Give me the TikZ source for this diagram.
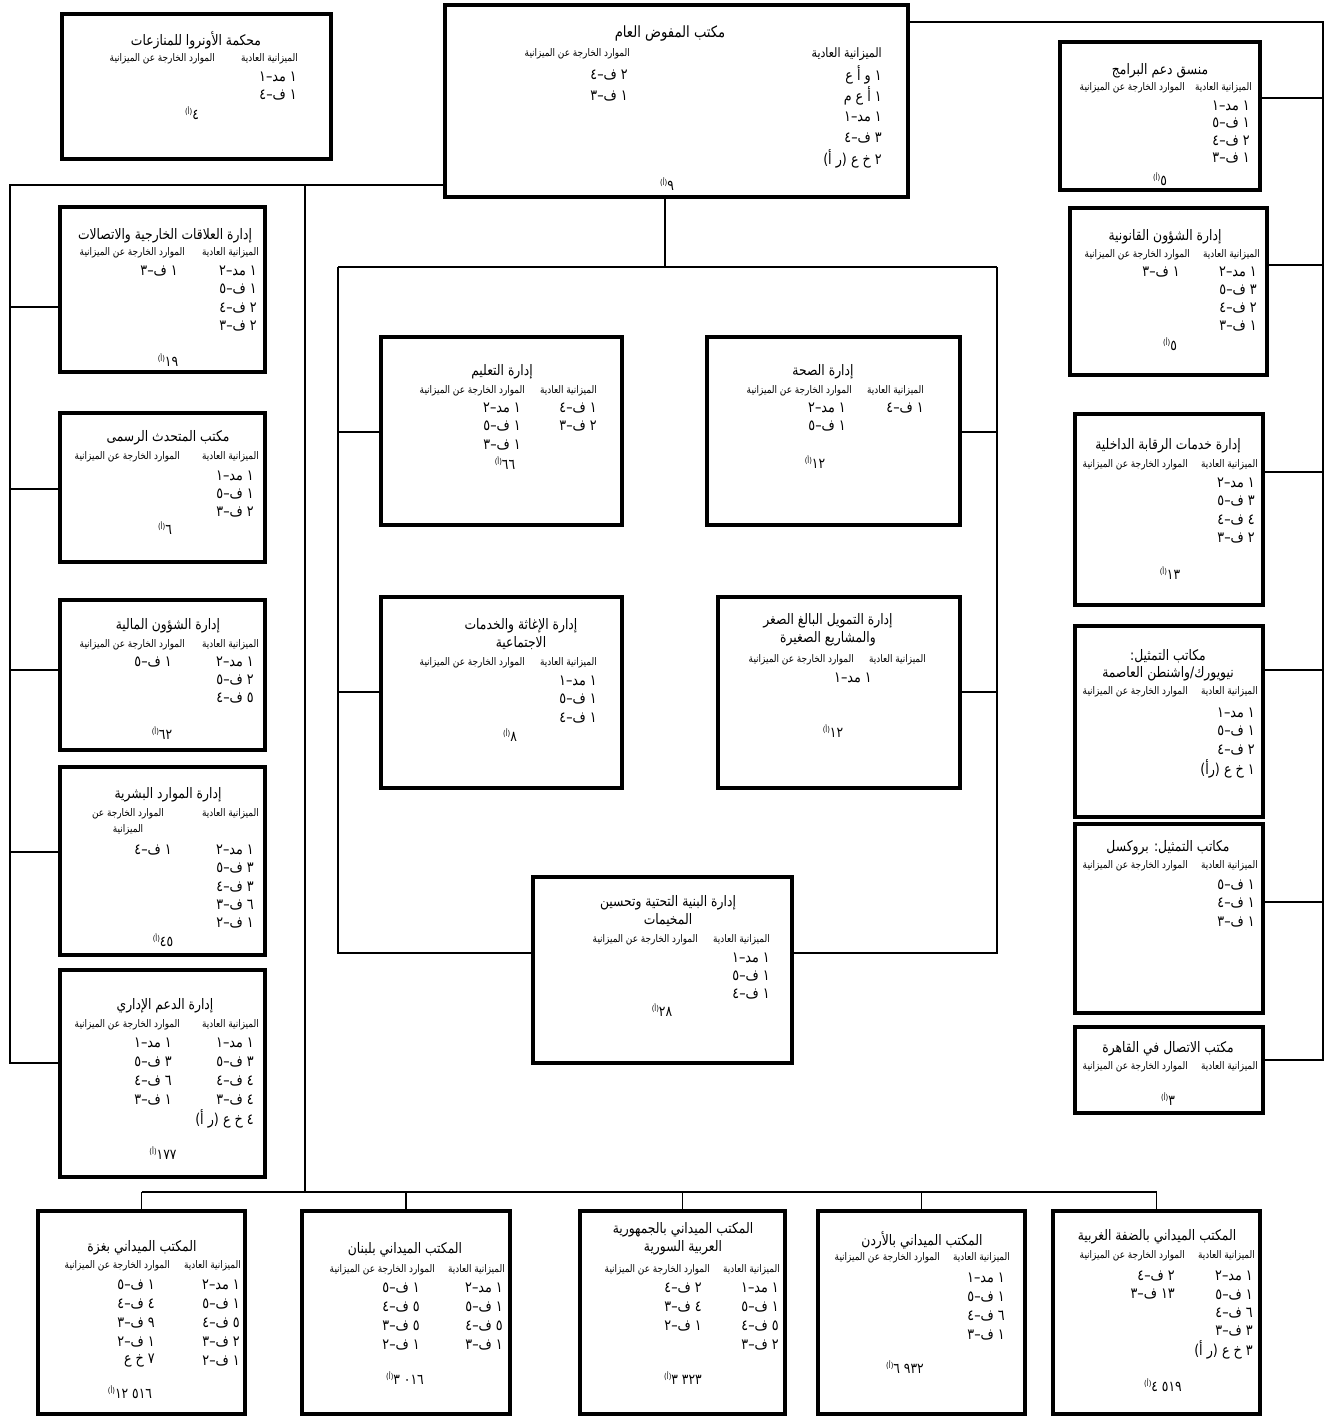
\documentclass[tikz,border=0pt]{standalone}
\usepackage{fontspec}
\usetikzlibrary{fit}
\TeXXeTstate=1
\newfontfamily\ar[Script=Arabic,FakeStretch=0.85]{DejaVu Sans}
\newcommand\artxt[1]{\beginR#1\endR}
\newcommand\supa{\raisebox{5pt}{\fontsize{8}{8}\selectfont(أ)}}
\tikzset{
 obox/.style={draw, line width=3.5pt, inner sep=0pt},
 ttl/.style={font=\ar\fontsize{14.5}{17}\selectfont, align=center, inner sep=0pt},
 hdr/.style={font=\ar\fontsize{10.5}{12}\selectfont, anchor=east, inner sep=0pt},
 rw/.style={font=\ar\fontsize{15}{16}\selectfont, anchor=east, inner sep=0pt},
 tot/.style={font=\ar\fontsize{14.5}{16}\selectfont, inner sep=0pt},
 conn/.style={line width=1.2pt},
}
\newcommand\colrows[5]{\foreach \t [count=\i from 0] in {#5}{\node[rw] (#1-\i) at (#2,{#3+\i*#4}) {\t};}}
\newcommand\hdrs[4]{\node[hdr] (#1-hr) at (#2,#4) {\artxt{الميزانية العادية}};
 \node[hdr] (#1-hl) at (#3,#4) {\artxt{الموارد الخارجة عن الميزانية}};}
\newcommand\tot[4]{\node[tot] (#1-tot) at (#2,#3) {\artxt{#4\supa}};}
\newcommand\mkbox[5]{\node[obox, fit={(#2,#3) (#4,#5)}] (#1) {};}
\begin{document}
\begin{tikzpicture}[x=1pt,y=-1pt]
\useasboundingbox (0,0) rectangle (1328,1416);
% ---------- top
\mkbox{ucg}{445}{5}{908}{197}
\node[ttl, font=\ar\fontsize{15.5}{17}\selectfont] (ucg-t) at (670,34) {\artxt{مكتب المفوض العام}};
\node[hdr, font=\ar\fontsize{13}{14}\selectfont] (ucg-hr) at (882,54) {\artxt{الميزانية العادية}};
\node[hdr] (ucg-hl) at (630,54) {\artxt{الموارد الخارجة عن الميزانية}};
\colrows{ucgR}{882}{75}{21}{{\artxt{١ و أ ع}},{\artxt{١ أ ع م}},{\artxt{١ مد–١}},{\artxt{٣ ف–٤}},{\artxt{٢ خ ع (ر أ)}}}
\colrows{ucgL}{628}{75}{21}{{\artxt{٢ ف–٤}},{\artxt{١ ف–٣}}}
\tot{ucg}{667}{184}{٩}
% ---------- court
\mkbox{court}{62}{14}{331}{159}
\node[ttl] (court-t) at (196,40) {\artxt{محكمة الأونروا للمنازعات}};
\hdrs{court}{298}{215}{59}
\colrows{courtR}{297}{77}{18}{{\artxt{١ مد–١}},{\artxt{١ ف–٤}}}
\tot{court}{192}{113}{٤}
% ---------- right column
\mkbox{psc}{1060}{42}{1260}{190}
\node[ttl] (psc-t) at (1160,71) {\artxt{منسق دعم البرامج}};
\hdrs{psc}{1252}{1185}{88}
\colrows{pscR}{1250}{106}{17.5}{{\artxt{١ مد–١}},{\artxt{١ ف–٥}},{\artxt{٢ ف–٤}},{\artxt{١ ف–٣}}}
\tot{psc}{1160}{179}{٥}

\mkbox{leg}{1070}{208}{1267}{375}
\node[ttl] (leg-t) at (1165,237) {\artxt{إدارة الشؤون القانونية}};
\hdrs{leg}{1260}{1190}{255}
\colrows{legR}{1257}{272}{18}{{\artxt{١ مد–٢}},{\artxt{٣ ف–٥}},{\artxt{٢ ف–٤}},{\artxt{١ ف–٣}}}
\colrows{legL}{1180}{272}{18}{{\artxt{١ ف–٣}}}
\tot{leg}{1170}{344}{٥}

\mkbox{ios}{1075}{414}{1263}{605}
\node[ttl] (ios-t) at (1168,446) {\artxt{إدارة خدمات الرقابة الداخلية}};
\hdrs{ios}{1258}{1188}{465}
\colrows{iosR}{1255}{483}{18.5}{{\artxt{١ مد–٢}},{\artxt{٣ ف–٥}},{\artxt{٤ ف–٤}},{\artxt{٢ ف–٣}}}
\tot{ios}{1170}{573}{١٣}

\mkbox{ny}{1075}{626}{1263}{817}
\node[ttl, font=\ar\fontsize{14.5}{17}\selectfont] (ny-t) at (1168,665) {\artxt{مكاتب التمثيل:}\\\artxt{نيويورك/واشنطن العاصمة}};
\hdrs{ny}{1258}{1188}{692}
\colrows{nyR}{1255}{713}{18.5}{{\artxt{١ مد–١}},{\artxt{١ ف–٥}},{\artxt{٢ ف–٤}},{\artxt{١ خ ع (رأ)}}}

\mkbox{bru}{1075}{824}{1263}{1013}
\node[ttl] (bru-t) at (1168,848) {\artxt{مكاتب التمثيل: بروكسل}};
\hdrs{bru}{1258}{1188}{866}
\colrows{bruR}{1255}{885}{18.5}{{\artxt{١ ف–٥}},{\artxt{١ ف–٤}},{\artxt{١ ف–٣}}}

\mkbox{cai}{1075}{1027}{1263}{1113}
\node[ttl] (cai-t) at (1168,1049) {\artxt{مكتب الاتصال في القاهرة}};
\hdrs{cai}{1258}{1188}{1067}
\tot{cai}{1168}{1099}{٣}
% ---------- left column
\mkbox{ext}{60}{207}{265}{372}
\node[ttl] (ext-t) at (165,236) {\artxt{إدارة العلاقات الخارجية والاتصالات}};
\hdrs{ext}{259}{185}{253}
\colrows{extR}{257}{271}{18.5}{{\artxt{١ مد–٢}},{\artxt{١ ف–٥}},{\artxt{٢ ف–٤}},{\artxt{٢ ف–٣}}}
\colrows{extL}{178}{271}{18.5}{{\artxt{١ ف–٣}}}
\tot{ext}{168}{360}{١٩}

\mkbox{spk}{60}{413}{265}{562}
\node[ttl] (spk-t) at (168,438) {\artxt{مكتب المتحدث الرسمى}};
\hdrs{spk}{259}{180}{457}
\colrows{spkR}{254}{476}{18}{{\artxt{١ مد–١}},{\artxt{١ ف–٥}},{\artxt{٢ ف–٣}}}
\tot{spk}{165}{528}{٦}

\mkbox{fin}{60}{600}{265}{750}
\node[ttl] (fin-t) at (168,626) {\artxt{إدارة الشؤون المالية}};
\hdrs{fin}{259}{185}{645}
\colrows{finR}{254}{662}{18}{{\artxt{١ مد–٢}},{\artxt{٢ ف–٥}},{\artxt{٥ ف–٤}}}
\colrows{finL}{172}{662}{18}{{\artxt{١ ف–٥}}}
\tot{fin}{162}{733}{٦٢}

\mkbox{hr}{60}{767}{265}{955}
\node[ttl] (hr-t) at (168,795) {\artxt{إدارة الموارد البشرية}};
\node[hdr] (hr-hr) at (259,814) {\artxt{الميزانية العادية}};
\node[hdr, anchor=center, align=center, font=\ar\fontsize{10.5}{16}\selectfont] (hr-hl) at (128,822) {\artxt{الموارد الخارجة عن}\\\artxt{الميزانية}};
\colrows{hrR}{254}{850}{18.3}{{\artxt{١ مد–٢}},{\artxt{٣ ف–٥}},{\artxt{٣ ف–٤}},{\artxt{٦ ف–٣}},{\artxt{١ ف–٢}}}
\colrows{hrL}{172}{850}{18.3}{{\artxt{١ ف–٤}}}
\tot{hr}{163}{940}{٤٥}

\mkbox{adm}{60}{970}{265}{1177}
\node[ttl] (adm-t) at (165,1006) {\artxt{إدارة الدعم الإداري}};
\hdrs{adm}{259}{180}{1025}
\colrows{admR}{254}{1043}{19}{{\artxt{١ مد–١}},{\artxt{٣ ف–٥}},{\artxt{٤ ف–٤}},{\artxt{٤ ف–٣}},{\artxt{٤ خ ع (ر أ)}}}
\colrows{admL}{172}{1043}{19}{{\artxt{١ مد–١}},{\artxt{٣ ف–٥}},{\artxt{٦ ف–٤}},{\artxt{١ ف–٣}}}
\tot{adm}{163}{1153}{١٧٧}
% ---------- centre
\mkbox{edu}{381}{337}{622}{525}
\node[ttl] (edu-t) at (502,372) {\artxt{إدارة التعليم}};
\hdrs{edu}{597}{525}{391}
\colrows{eduR}{597}{408}{18.5}{{\artxt{١ ف–٤}},{\artxt{٢ ف–٣}}}
\colrows{eduL}{521}{408}{18.5}{{\artxt{١ مد–٢}},{\artxt{١ ف–٥}},{\artxt{١ ف–٣}}}
\tot{edu}{505}{463}{٦٦}

\mkbox{hea}{707}{337}{960}{525}
\node[ttl] (hea-t) at (823,372) {\artxt{إدارة الصحة}};
\hdrs{hea}{924}{852}{391}
\colrows{heaR}{924}{408}{18.5}{{\artxt{١ ف–٤}}}
\colrows{heaL}{846}{408}{18.5}{{\artxt{١ مد–٢}},{\artxt{١ ف–٥}}}
\tot{hea}{815}{462}{١٢}

\mkbox{rel}{381}{597}{622}{788}
\node[ttl, font=\ar\fontsize{14.5}{18}\selectfont] (rel-t) at (521,634) {\artxt{إدارة الإغاثة والخدمات}\\\artxt{الاجتماعية}};
\hdrs{rel}{597}{525}{663}
\colrows{relR}{597}{681}{18.5}{{\artxt{١ مد–١}},{\artxt{١ ف–٥}},{\artxt{١ ف–٤}}}
\tot{rel}{510}{735}{٨}

\mkbox{mf}{718}{597}{960}{788}
\node[ttl, font=\ar\fontsize{14.5}{18}\selectfont] (mf-t) at (828,630) {\artxt{إدارة التمويل البالغ الصغر}\\\artxt{والمشاريع الصغيرة}};
\hdrs{mf}{926}{854}{660}
\colrows{mfR}{872}{678}{18.5}{{\artxt{١ مد–١}}}
\tot{mf}{833}{731}{١٢}

\mkbox{inf}{533}{877}{792}{1063}
\node[ttl, font=\ar\fontsize{14.5}{18}\selectfont] (inf-t) at (668,911) {\artxt{إدارة البنية التحتية وتحسين}\\\artxt{المخيمات}};
\hdrs{inf}{770}{698}{940}
\colrows{infR}{770}{958}{18}{{\artxt{١ مد–١}},{\artxt{١ ف–٥}},{\artxt{١ ف–٤}}}
\tot{inf}{662}{1010}{٢٨}
% ---------- field offices
\mkbox{gaz}{38}{1211}{245}{1414}
\node[ttl] (gaz-t) at (142,1248) {\artxt{المكتب الميداني بغزة}};
\hdrs{gaz}{241}{170}{1266}
\colrows{gazR}{240}{1285}{19}{{\artxt{١ مد–٢}},{\artxt{١ ف–٥}},{\artxt{٥ ف–٤}},{\artxt{٢ ف–٣}},{\artxt{١ ف–٢}}}
\colrows{gazL}{155}{1285}{19}{{\artxt{١ ف–٥}},{\artxt{٤ ف–٤}},{\artxt{٩ ف–٣}},{\artxt{١ ف–٢}},{\artxt{٧ خ ع}}}
\tot{gaz}{130}{1392}{\beginL١٢ ٥١٦\endL}

\mkbox{leb}{302}{1211}{510}{1414}
\node[ttl] (leb-t) at (405,1250) {\artxt{المكتب الميداني بلبنان}};
\hdrs{leb}{505}{435}{1270}
\colrows{lebR}{503}{1288}{19}{{\artxt{١ مد–٢}},{\artxt{١ ف–٥}},{\artxt{٥ ف–٤}},{\artxt{١ ف–٣}}}
\colrows{lebL}{420}{1288}{19}{{\artxt{١ ف–٥}},{\artxt{٥ ف–٤}},{\artxt{٥ ف–٣}},{\artxt{١ ف–٢}}}
\tot{leb}{405}{1378}{\beginL٣ ٠١٦\endL}

\mkbox{syr}{580}{1211}{785}{1414}
\node[ttl, font=\ar\fontsize{14.5}{18}\selectfont] (syr-t) at (683,1239) {\artxt{المكتب الميداني بالجمهورية}\\\artxt{العربية السورية}};
\hdrs{syr}{780}{710}{1270}
\colrows{syrR}{779}{1288}{19}{{\artxt{١ مد–١}},{\artxt{١ ف–٥}},{\artxt{٥ ف–٤}},{\artxt{٢ ف–٣}}}
\colrows{syrL}{702}{1288}{19}{{\artxt{٢ ف–٤}},{\artxt{٤ ف–٣}},{\artxt{١ ف–٢}}}
\tot{syr}{683}{1378}{\beginL٣ ٣٢٣\endL}

\mkbox{jor}{818}{1211}{1025}{1414}
\node[ttl] (jor-t) at (922,1240) {\artxt{المكتب الميداني بالأردن}};
\hdrs{jor}{1010}{940}{1258}
\colrows{jorR}{1005}{1278}{19}{{\artxt{١ مد–١}},{\artxt{١ ف–٥}},{\artxt{٦ ف–٤}},{\artxt{١ ف–٣}}}
\tot{jor}{905}{1367}{\beginL٦ ٩٣٢\endL}

\mkbox{wb}{1053}{1211}{1260}{1414}
\node[ttl] (wb-t) at (1157,1237) {\artxt{المكتب الميداني بالضفة الغربية}};
\hdrs{wb}{1255}{1185}{1256}
\colrows{wbR}{1253}{1276}{18.5}{{\artxt{١ مد–٢}},{\artxt{١ ف–٥}},{\artxt{٦ ف–٤}},{\artxt{٣ ف–٣}},{\artxt{٣ خ ع (ر أ)}}}
\colrows{wbL}{1175}{1276}{18.5}{{\artxt{٢ ف–٤}},{\artxt{١٣ ف–٣}}}
\tot{wb}{1163}{1385}{\beginL٤ ٥١٩\endL}
% ---------- connectors
\coordinate (rT) at (1323,22);
\coordinate (rB) at (1323,1060);
\draw[conn] (ucg.east |- rT) -- (rT) -- (rB) -- (rB -| cai.east);
\coordinate (r1) at (1323,98);  \draw[conn] (r1) -- (r1 -| psc.east);
\coordinate (r2) at (1323,265); \draw[conn] (r2) -- (r2 -| leg.east);
\coordinate (r3) at (1323,472); \draw[conn] (r3) -- (r3 -| ios.east);
\coordinate (r4) at (1323,670); \draw[conn] (r4) -- (r4 -| ny.east);
\coordinate (r5) at (1323,902); \draw[conn] (r5) -- (r5 -| bru.east);
\coordinate (lT) at (10,185);
\coordinate (lB) at (10,1063);
\draw[conn] (ucg.west |- lT) -- (lT) -- (lB) -- (lB -| adm.west);
\coordinate (l1) at (10,307); \draw[conn] (l1) -- (l1 -| ext.west);
\coordinate (l2) at (10,489); \draw[conn] (l2) -- (l2 -| spk.west);
\coordinate (l3) at (10,670); \draw[conn] (l3) -- (l3 -| fin.west);
\coordinate (l4) at (10,852); \draw[conn] (l4) -- (l4 -| hr.west);
\coordinate (mT) at (305,185);
\coordinate (mB) at (305,1192);
\draw[conn] (mT) -- (mB);
\draw[conn] (gaz.north |- mB) -- (wb.north |- mB);
\foreach \f in {gaz,leb,syr,jor,wb}{\draw[conn] (\f.north |- mB) -- (\f.north);}
\coordinate (cM) at (665,267);
\coordinate (cL) at (338,267);
\coordinate (cR) at (997,267);
\coordinate (cLB) at (338,953);
\coordinate (cRB) at (997,953);
\draw[conn] (ucg.south -| cM) -- (cM);
\draw[conn] (cL) -- (cR);
\draw[conn] (cL) -- (cLB) -- (cLB -| inf.west);
\draw[conn] (cR) -- (cRB) -- (cRB -| inf.east);
\coordinate (c1) at (338,432); \draw[conn] (c1) -- (c1 -| edu.west);
\coordinate (c2) at (997,432); \draw[conn] (c2) -- (c2 -| hea.east);
\coordinate (c3) at (338,692); \draw[conn] (c3) -- (c3 -| rel.west);
\coordinate (c4) at (997,692); \draw[conn] (c4) -- (c4 -| mf.east);
\end{tikzpicture}
\end{document}
